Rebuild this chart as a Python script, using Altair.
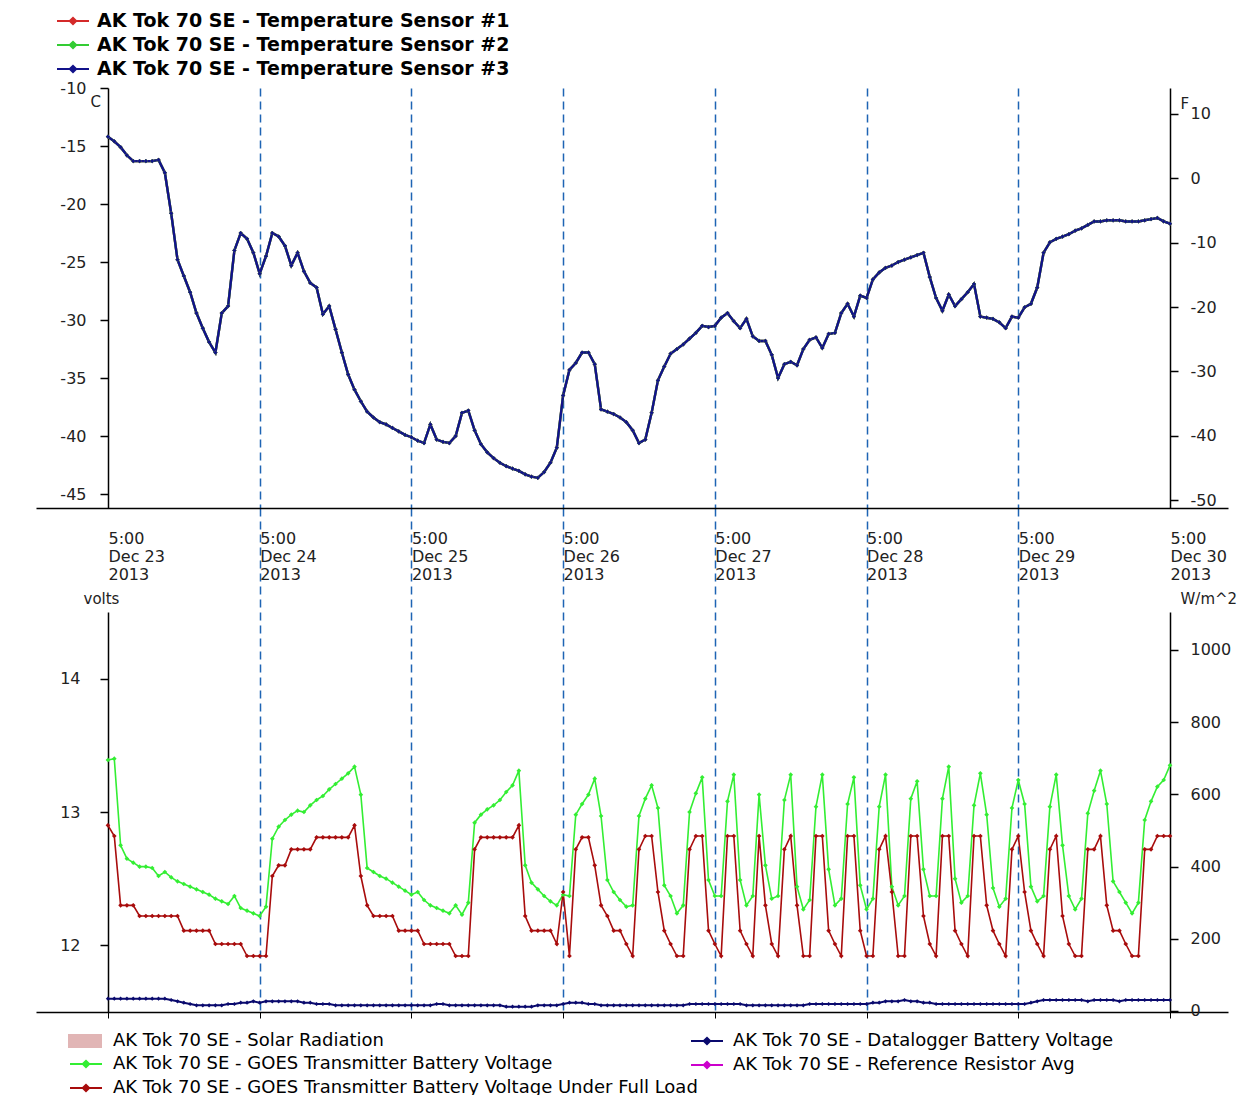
import altair as alt
import pandas as pd

# ---------------- data (hourly readings from 5:00 Dec 23 2013) ----------------
start_time = "2013-12-23 05:00"
n_hours = 169
tick_days = [23, 24, 25, 26, 27, 28, 29, 30]

temp_names = ["AK Tok 70 SE - Temperature Sensor #1",
              "AK Tok 70 SE - Temperature Sensor #2",
              "AK Tok 70 SE - Temperature Sensor #3"]
temp_colors = ["#d42a2a", "#33cc33", "#12128a"]

temp_sensor3 = [
    -14.2, -14.6, -15.1, -15.8, -16.3, -16.3, -16.3, -16.3, -16.2, -17.3,
    -20.8, -24.8, -26.2, -27.6, -29.4, -30.7, -31.9, -32.8, -29.4, -28.8,
    -24.0, -22.5, -23.0, -24.2, -26.0, -24.5, -22.5, -22.8, -23.6, -25.3,
    -24.2, -25.8, -26.8, -27.2, -29.5, -28.8, -30.8, -32.8, -34.7, -36.0,
    -37.0, -37.9, -38.4, -38.8, -39.0, -39.3, -39.6, -39.9, -40.1, -40.4,
    -40.6, -39.0, -40.3, -40.5, -40.6, -40.0, -38.0, -37.8, -39.5, -40.7,
    -41.4, -41.9, -42.3, -42.6, -42.8, -43.0, -43.3, -43.5, -43.6, -43.1,
    -42.3, -41.0, -36.5, -34.3, -33.7, -32.8, -32.8, -33.8, -37.7, -37.9,
    -38.1, -38.4, -38.8, -39.5, -40.6, -40.3, -38.0, -35.2, -34.0, -32.9,
    -32.5, -32.1, -31.6, -31.1, -30.5, -30.6, -30.5, -29.8, -29.4, -30.1,
    -30.7, -29.9, -31.4, -31.8, -31.8, -33.0, -35.0, -33.8, -33.6, -33.9,
    -32.5, -31.7, -31.5, -32.4, -31.2, -31.1, -29.4, -28.6, -29.7, -27.9,
    -28.1, -26.5, -25.9, -25.5, -25.3, -25.0, -24.8, -24.6, -24.4, -24.2,
    -26.3, -28.1, -29.2, -27.8, -28.8, -28.2, -27.6, -26.9, -29.7, -29.8,
    -29.9, -30.2, -30.7, -29.7, -29.8, -28.9, -28.6, -27.2, -24.2, -23.3,
    -23.0, -22.8, -22.6, -22.3, -22.1, -21.8, -21.5, -21.5, -21.4, -21.4,
    -21.4, -21.5, -21.5, -21.5, -21.4, -21.3, -21.2, -21.5, -21.7]
# sensors 1 and 2 read the same as sensor 3 (hidden beneath it in the picture)
temp_sensor1 = list(temp_sensor3)
temp_sensor2 = list(temp_sensor3)

f_ticks = [-50, -40, -30, -20, -10, 0, 10]
c_ticks = [-45, -40, -35, -30, -25, -20, -15, -10]

volt_names = ["AK Tok 70 SE - GOES Transmitter Battery Voltage",
              "AK Tok 70 SE - GOES Transmitter Battery Voltage Under Full Load"]
volt_colors = ["#33ee33", "#a80c0c"]

goes_v = [
    13.39, 13.40, 12.75, 12.65, 12.62, 12.59, 12.59, 12.58, 12.52, 12.55,
    12.51, 12.48, 12.46, 12.44, 12.42, 12.40, 12.38, 12.35, 12.33, 12.31,
    12.37, 12.28, 12.26, 12.24, 12.22, 12.29, 12.80, 12.89, 12.94, 12.98,
    13.01, 13.00, 13.05, 13.09, 13.12, 13.17, 13.21, 13.25, 13.29, 13.34,
    13.13, 12.58, 12.55, 12.52, 12.50, 12.47, 12.44, 12.41, 12.38, 12.40,
    12.34, 12.30, 12.28, 12.26, 12.24, 12.30, 12.23, 12.32, 12.92, 12.98,
    13.02, 13.05, 13.09, 13.15, 13.20, 13.31, 12.60, 12.47, 12.42, 12.37,
    12.33, 12.30, 12.38, 12.37, 12.98, 13.06, 13.13, 13.25, 12.97, 12.49,
    12.40, 12.34, 12.29, 12.30, 12.97, 13.10, 13.20, 13.03, 12.45, 12.37,
    12.24, 12.30, 13.00, 13.14, 13.26, 12.49, 12.37, 12.37, 13.08, 13.28,
    12.49, 12.30, 12.37, 13.13, 12.60, 12.35, 12.37, 13.09, 13.28, 12.44,
    12.27, 12.34, 13.04, 13.28, 12.57, 12.30, 12.35, 13.06, 13.26, 12.45,
    12.27, 12.35, 13.04, 13.28, 12.44, 12.30, 12.37, 13.10, 13.23, 12.57,
    12.37, 12.37, 13.10, 13.34, 12.50, 12.32, 12.37, 13.05, 13.29, 12.98,
    12.43, 12.29, 12.35, 13.03, 13.24, 13.06, 12.44, 12.33, 12.37, 13.04,
    13.28, 12.75, 12.37, 12.27, 12.35, 12.99, 13.16, 13.31, 13.06, 12.48,
    12.40, 12.32, 12.24, 12.32, 12.94, 13.08, 13.19, 13.24, 13.35]

goes_load_v = [
    12.90, 12.82, 12.30, 12.30, 12.30, 12.22, 12.22, 12.22, 12.22, 12.22,
    12.22, 12.22, 12.11, 12.11, 12.11, 12.11, 12.11, 12.01, 12.01, 12.01,
    12.01, 12.01, 11.92, 11.92, 11.92, 11.92, 12.52, 12.60, 12.60, 12.72,
    12.72, 12.72, 12.72, 12.81, 12.81, 12.81, 12.81, 12.81, 12.81, 12.90,
    12.52, 12.30, 12.22, 12.22, 12.22, 12.22, 12.11, 12.11, 12.11, 12.11,
    12.01, 12.01, 12.01, 12.01, 12.01, 11.92, 11.92, 11.92, 12.72, 12.81,
    12.81, 12.81, 12.81, 12.81, 12.81, 12.90, 12.22, 12.11, 12.11, 12.11,
    12.11, 12.01, 12.40, 11.92, 12.72, 12.81, 12.81, 12.60, 12.30, 12.22,
    12.11, 12.11, 12.01, 11.92, 12.72, 12.82, 12.82, 12.40, 12.11, 12.01,
    11.92, 11.92, 12.72, 12.82, 12.82, 12.11, 12.01, 11.92, 12.82, 12.82,
    12.11, 12.01, 11.92, 12.82, 12.30, 12.01, 11.92, 12.72, 12.82, 12.30,
    11.92, 11.92, 12.82, 12.82, 12.11, 12.01, 11.92, 12.82, 12.82, 12.11,
    11.92, 11.92, 12.72, 12.82, 12.40, 11.92, 11.92, 12.82, 12.82, 12.22,
    12.01, 11.92, 12.82, 12.82, 12.11, 12.01, 11.92, 12.82, 12.82, 12.30,
    12.11, 12.01, 11.92, 12.72, 12.82, 12.40, 12.11, 12.01, 11.92, 12.72,
    12.82, 12.22, 12.01, 11.92, 11.92, 12.72, 12.72, 12.82, 12.30, 12.11,
    12.11, 12.01, 11.92, 11.92, 12.72, 12.72, 12.82, 12.82, 12.82]

logger_names = ["AK Tok 70 SE - Datalogger Battery Voltage",
                "AK Tok 70 SE - Reference Resistor Avg"]
logger_colors = ["#0a0a6e", "#cc00cc"]

datalogger_v = [
    11.60, 11.60, 11.60, 11.60, 11.60, 11.60, 11.60, 11.60, 11.60, 11.60,
    11.59, 11.58, 11.57, 11.56, 11.55, 11.55, 11.55, 11.55, 11.55, 11.56,
    11.56, 11.57, 11.57, 11.58, 11.57, 11.58, 11.58, 11.58, 11.58, 11.58,
    11.58, 11.57, 11.57, 11.56, 11.56, 11.56, 11.55, 11.55, 11.55, 11.55,
    11.55, 11.55, 11.55, 11.55, 11.55, 11.55, 11.55, 11.55, 11.55, 11.55,
    11.55, 11.55, 11.56, 11.56, 11.55, 11.55, 11.55, 11.55, 11.55, 11.55,
    11.55, 11.55, 11.55, 11.54, 11.54, 11.54, 11.54, 11.54, 11.55, 11.55,
    11.55, 11.55, 11.56, 11.57, 11.57, 11.57, 11.56, 11.56, 11.55, 11.55,
    11.55, 11.55, 11.55, 11.55, 11.55, 11.55, 11.55, 11.55, 11.55, 11.55,
    11.55, 11.55, 11.56, 11.56, 11.56, 11.56, 11.56, 11.56, 11.56, 11.56,
    11.56, 11.55, 11.55, 11.55, 11.55, 11.55, 11.55, 11.55, 11.55, 11.55,
    11.55, 11.56, 11.56, 11.56, 11.56, 11.56, 11.56, 11.56, 11.56, 11.56,
    11.56, 11.57, 11.57, 11.58, 11.58, 11.58, 11.59, 11.58, 11.58, 11.57,
    11.57, 11.56, 11.56, 11.56, 11.56, 11.56, 11.56, 11.56, 11.56, 11.56,
    11.56, 11.56, 11.56, 11.56, 11.56, 11.56, 11.57, 11.58, 11.59, 11.59,
    11.59, 11.59, 11.59, 11.59, 11.59, 11.58, 11.59, 11.59, 11.59, 11.59,
    11.58, 11.59, 11.59, 11.59, 11.59, 11.59, 11.59, 11.59, 11.59]

solar_name = ["AK Tok 70 SE - Solar Radiation"]
solar_color = ["#d9a3a3"]
solar_hours = [0, 24, 48, 72, 96, 120, 144, 168]
solar_w = [0, 0, 0, 0, 0, 0, 0, 0]

wm2_ticks = [0, 200, 400, 600, 800, 1000]
volt_ticks = [12, 13, 14]

# ---------------- tables ----------------
times = pd.date_range(start_time, periods=n_hours, freq="h").strftime("%Y-%m-%dT%H:%M:%S").tolist()
temp_df = pd.DataFrame({
    "time": times * 3,
    "C": temp_sensor1 + temp_sensor2 + temp_sensor3,
    "series": [temp_names[0]] * n_hours + [temp_names[1]] * n_hours + [temp_names[2]] * n_hours,
})
volt_df = pd.DataFrame({
    "time": times * 2,
    "V": goes_v + goes_load_v,
    "series": [volt_names[0]] * n_hours + [volt_names[1]] * n_hours,
})
logger_df = pd.DataFrame({"time": times, "V": datalogger_v, "logger": [logger_names[0]] * n_hours})
solar_df = pd.DataFrame({"time": [times[h] for h in solar_hours], "W": solar_w,
                         "solar": solar_name * len(solar_hours)})

# ---------------- shared styling ----------------
FONT = "DejaVu Sans"
GRID_BLUE = "#1e64b4"
x_domain = [alt.DateTime(year=2013, month=12, date=22, hours=17, minutes=37),
            alt.DateTime(year=2013, month=12, date=30, hours=14, minutes=10, seconds=30)]
tick_vals = [alt.DateTime(year=2013, month=12, date=d, hours=5) for d in tick_days]
edge_test = "datum.value < datetime(2013, 11, 23, 6) || datum.value > datetime(2013, 11, 30, 4)"
hide_edges = {"condition": {"test": edge_test, "value": 0}, "value": 1}
x_scale = alt.Scale(domain=x_domain, nice=False)

# legend symbols: a 32px line with a small dot, and a 34x14 swatch (symbolSize=400 -> scale 10)
line_dot = "M-1.6,0H1.6M-0.32,0L0,-0.32L0.32,0L0,0.32Z"
swatch = "M-1.7,-0.7H1.7V0.7H-1.7Z"

x_top = alt.X("time:T", scale=x_scale, title=None, axis=alt.Axis(
    values=tick_vals,
    labelExpr="[timeFormat(datum.value, '%-H:%M'), timeFormat(datum.value, '%b %d'), timeFormat(datum.value, '%Y')]",
    labelAlign="left", labelBaseline="top", labelFont=FONT, labelFontSize=16,
    labelLineHeight=18, labelColor="#222222", labelPadding=-82, labelFlush=False,
    labelOverlap=False, tickSize=104, tickDash=[8, 5], tickColor=GRID_BLUE, tickWidth=1.5,
    tickOpacity=hide_edges, grid=True, gridDash=[8, 5], gridColor=GRID_BLUE, gridWidth=1.5,
    gridOpacity=hide_edges, domainColor="black", domainWidth=1.5))

x_bottom = alt.X("time:T", scale=x_scale, title=None, axis=alt.Axis(
    values=tick_vals, labels=False, tickSize=6, tickColor="black", tickWidth=1,
    grid=True, gridDash=[8, 5], gridColor=GRID_BLUE, gridWidth=1.5, gridOpacity=hide_edges,
    domainColor="black", domainWidth=1.5))


def left_axis(values, title, pad, title_x, title_y, baseline):
    return alt.Axis(orient="left", offset=-72, values=values, labelExpr="datum.value + ''",
                    labelFont=FONT, labelFontSize=16, labelColor="#222222", labelPadding=pad,
                    tickSize=8, tickColor="black", tickWidth=1.5, domainColor="black",
                    domainWidth=1.5, grid=False, title=title, titleAngle=0, titleX=title_x,
                    titleY=title_y, titleAlign="left", titleBaseline=baseline, titleFont=FONT,
                    titleFontSize=15, titleFontWeight="normal", titleColor="#222222")


def right_axis(values, title, title_y, baseline):
    return alt.Axis(orient="right", offset=-58, values=values, labelExpr="datum.value + ''",
                    labelFont=FONT, labelFontSize=16, labelColor="#222222", labelPadding=12,
                    tickSize=8, tickColor="black", tickWidth=1.5, domainColor="black",
                    domainWidth=1.5, grid=False, title=title, titleAngle=0, titleX=10,
                    titleY=title_y, titleAlign="left", titleBaseline=baseline, titleFont=FONT,
                    titleFontSize=15, titleFontWeight="normal", titleColor="#222222")


def legend(x, y, symbol, font_size, weight, offset, row_pad, stroke_w):
    return alt.Legend(orient="none", legendX=x, legendY=y, title=None, symbolType=symbol,
                      symbolSize=400, symbolStrokeWidth=stroke_w, labelFont=FONT,
                      labelFontWeight=weight, labelFontSize=font_size, labelColor="black",
                      labelOffset=offset, rowPadding=row_pad, labelLimit=1000)


# ---------------- top panel: temperatures ----------------
temp_lines = alt.Chart(temp_df).mark_line(
    strokeWidth=2.4, point=alt.OverlayMarkDef(filled=True, size=18, shape="diamond")
).encode(
    x=x_top,
    y=alt.Y("C:Q", scale=alt.Scale(domain=[-46.2, -10], nice=False, zero=False),
            axis=left_axis(c_ticks, "C", 14, -18, 6, "top")),
    color=alt.Color("series:N", scale=alt.Scale(domain=temp_names, range=temp_colors),
                    legend=legend(26, -78, line_dot, 19, "bold", 13, 3, 2)),
)
f_axis = alt.Chart(pd.DataFrame({"F": f_ticks})).mark_point(opacity=0).encode(
    y=alt.Y("F:Q", scale=alt.Scale(domain=[-51.2, 14], nice=False, zero=False),
            axis=right_axis(f_ticks, "F", 8, "top"))
)
top = alt.layer(temp_lines, f_axis).resolve_scale(y="independent").properties(width=1192, height=420)

# ---------------- bottom panel: voltages ----------------
volt_y = alt.Y("V:Q", scale=alt.Scale(domain=[11.5, 14.5], nice=False, zero=False),
               axis=left_axis(volt_ticks, "volts", 20, -25, -6, "bottom"))
goes = alt.Chart(volt_df).mark_line(
    strokeWidth=1.6, point=alt.OverlayMarkDef(filled=True, size=22, shape="diamond")
).encode(
    x=x_bottom, y=volt_y,
    color=alt.Color("series:N", scale=alt.Scale(domain=volt_names, range=volt_colors),
                    legend=legend(39, 441, line_dot, 18, "normal", 16, 4, 2)),
)
logger = alt.Chart(logger_df).mark_line(
    strokeWidth=2, point=alt.OverlayMarkDef(filled=True, size=18, shape="diamond")
).encode(
    x=x_bottom, y=volt_y,
    color=alt.Color("logger:N", scale=alt.Scale(domain=logger_names, range=logger_colors),
                    legend=legend(660, 418, line_dot, 18, "normal", 15, 4, 2)),
)
volts = alt.layer(goes, logger).resolve_scale(color="independent")

solar = alt.Chart(solar_df).mark_area(opacity=0.8).encode(
    x=x_bottom,
    y=alt.Y("W:Q", scale=alt.Scale(domain=[-3, 1105], nice=False, zero=False),
            axis=right_axis(wm2_ticks, "W/m^2", -6, "bottom")),
    color=alt.Color("solar:N", scale=alt.Scale(domain=solar_name, range=solar_color),
                    legend=legend(39, 419, swatch, 18, "normal", 18, 4, 0)),
)
bottom = alt.layer(solar, volts).resolve_scale(y="independent", color="independent").properties(
    width=1192, height=400)

chart = alt.vconcat(top, bottom, spacing=104, bounds="flush").resolve_scale(
    color="independent").properties(
    padding={"left": 28, "top": 2, "right": 0, "bottom": 0}
).configure_view(stroke=None)

chart.save("out.html", embed_options={"renderer": "svg", "actions": False})
